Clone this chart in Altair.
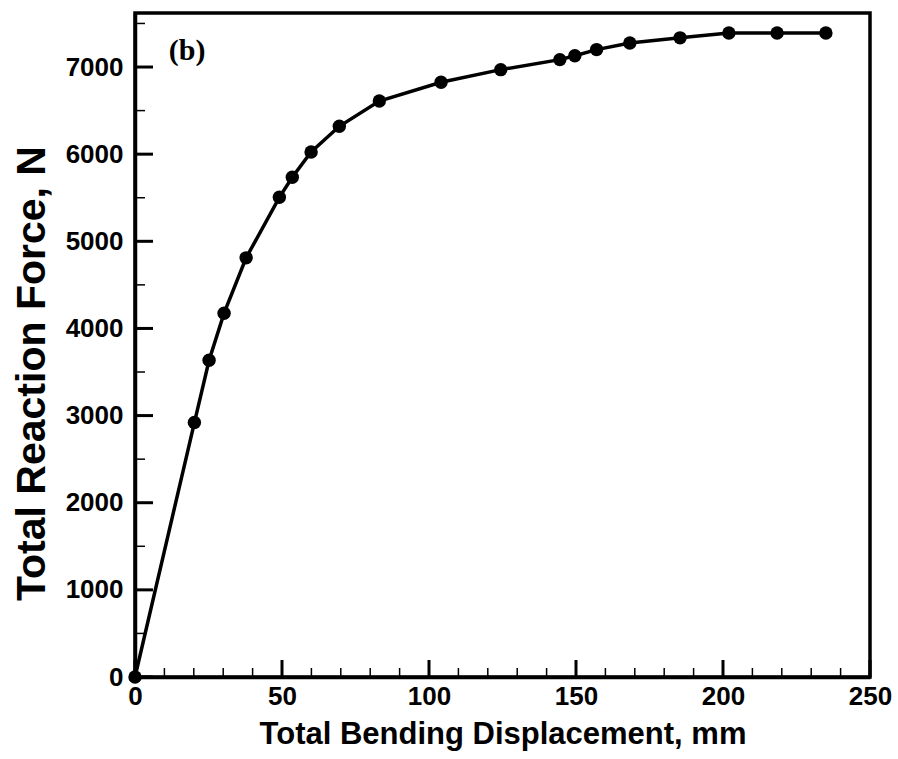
import altair as alt
import pandas as pd

# Data
disp = [0, 20.2, 25.2, 30.3, 37.8, 49.1, 53.5, 59.9, 69.5, 83.1, 104.1, 124.4,
        144.5, 149.6, 157.0, 168.3, 185.4, 202.0, 218.4, 235.0]
force = [0, 2920, 3635, 4175, 4810, 5505, 5735, 6025, 6320, 6610, 6825, 6970,
         7085, 7130, 7200, 7275, 7335, 7390, 7390, 7390]

x_major = [0, 50, 100, 150, 200, 250]
x_minor = [0, 10, 20, 30, 40, 50, 60, 70, 80, 90, 100, 110, 120, 130, 140, 150,
           160, 170, 180, 190, 200, 210, 220, 230, 240, 250]
y_major = [0, 1000, 2000, 3000, 4000, 5000, 6000, 7000]
y_minor = [0, 500, 1000, 1500, 2000, 2500, 3000, 3500, 4000, 4500, 5000, 5500,
           6000, 6500, 7000, 7500]

ann_x = [11.5]
ann_y = [7180]
ann_text = ["(b)"]

W, H = 735, 664

df = pd.DataFrame({"d": disp, "f": force})
xs = alt.Scale(domain=[0, 250], nice=False, zero=False)
ys = alt.Scale(domain=[0, 7620], nice=False, zero=False)

font = "Liberation Sans"

x_axis = alt.Axis(values=x_major, format="d", ticks=False, grid=False, domainWidth=3.5,
                  domainColor="black", labelFont=font, labelFontWeight="bold",
                  labelFontSize=26, labelColor="black", labelPadding=6,
                  labelFlush=False, labelOverlap=False,
                  title="Total Bending Displacement, mm", titleFont=font,
                  titleFontWeight="bold", titleFontSize=31, titleColor="black",
                  titlePadding=10)
y_axis = alt.Axis(values=y_major, format="d", ticks=False, grid=False, domainWidth=3.5,
                  domainColor="black", labelFont=font, labelFontWeight="bold",
                  labelFontSize=26, labelColor="black", labelPadding=12,
                  labelFlush=False, labelOverlap=False,
                  title="Total Reaction Force, N", titleFont=font,
                  titleFontWeight="bold", titleFontSize=41, titleColor="black",
                  titlePadding=12, titleY=360)

line = alt.Chart(df).mark_line(color="black", strokeWidth=3.5).encode(
    x=alt.X("d:Q", scale=xs, axis=x_axis),
    y=alt.Y("f:Q", scale=ys, axis=y_axis),
    order="d:Q",
)
pts = alt.Chart(df).mark_circle(color="black", size=180, opacity=1).encode(
    x=alt.X("d:Q", scale=xs, axis=x_axis),
    y=alt.Y("f:Q", scale=ys, axis=y_axis),
)

xmin_df = pd.DataFrame({"v": x_minor})
xmaj_df = pd.DataFrame({"v": x_major})
ymin_df = pd.DataFrame({"v": y_minor})
ymaj_df = pd.DataFrame({"v": y_major})

xminor_ticks = alt.Chart(xmin_df).mark_rule(color="black", strokeWidth=1.5).encode(
    x=alt.X("v:Q", scale=xs, axis=x_axis), y=alt.value(H), y2=alt.value(H - 9))
xmajor_ticks = alt.Chart(xmaj_df).mark_rule(color="black", strokeWidth=3).encode(
    x=alt.X("v:Q", scale=xs, axis=x_axis), y=alt.value(H), y2=alt.value(H - 17))
yminor_ticks = alt.Chart(ymin_df).mark_rule(color="black", strokeWidth=1.5).encode(
    y=alt.Y("v:Q", scale=ys, axis=y_axis), x=alt.value(0), x2=alt.value(10))
ymajor_ticks = alt.Chart(ymaj_df).mark_rule(color="black", strokeWidth=3).encode(
    y=alt.Y("v:Q", scale=ys, axis=y_axis), x=alt.value(0), x2=alt.value(18))

ann_df = pd.DataFrame({"x": ann_x, "y": ann_y, "t": ann_text})
ann = alt.Chart(ann_df).mark_text(font="Liberation Serif", fontWeight="bold",
                                  fontSize=30, align="left", baseline="middle",
                                  color="black").encode(
    x=alt.X("x:Q", scale=xs, axis=x_axis),
    y=alt.Y("y:Q", scale=ys, axis=y_axis),
    text="t:N",
)

chart = alt.layer(line, xminor_ticks, xmajor_ticks, yminor_ticks, ymajor_ticks,
                  pts, ann).properties(
    width=W, height=H,
    autosize=alt.AutoSizeParams(type="none"),
    padding={"left": 135, "top": 13, "right": 28, "bottom": 82},
    background="white",
).configure_view(stroke="black", strokeWidth=3.5)

chart.save("out.html", embed_options={"renderer": "svg", "actions": False})
